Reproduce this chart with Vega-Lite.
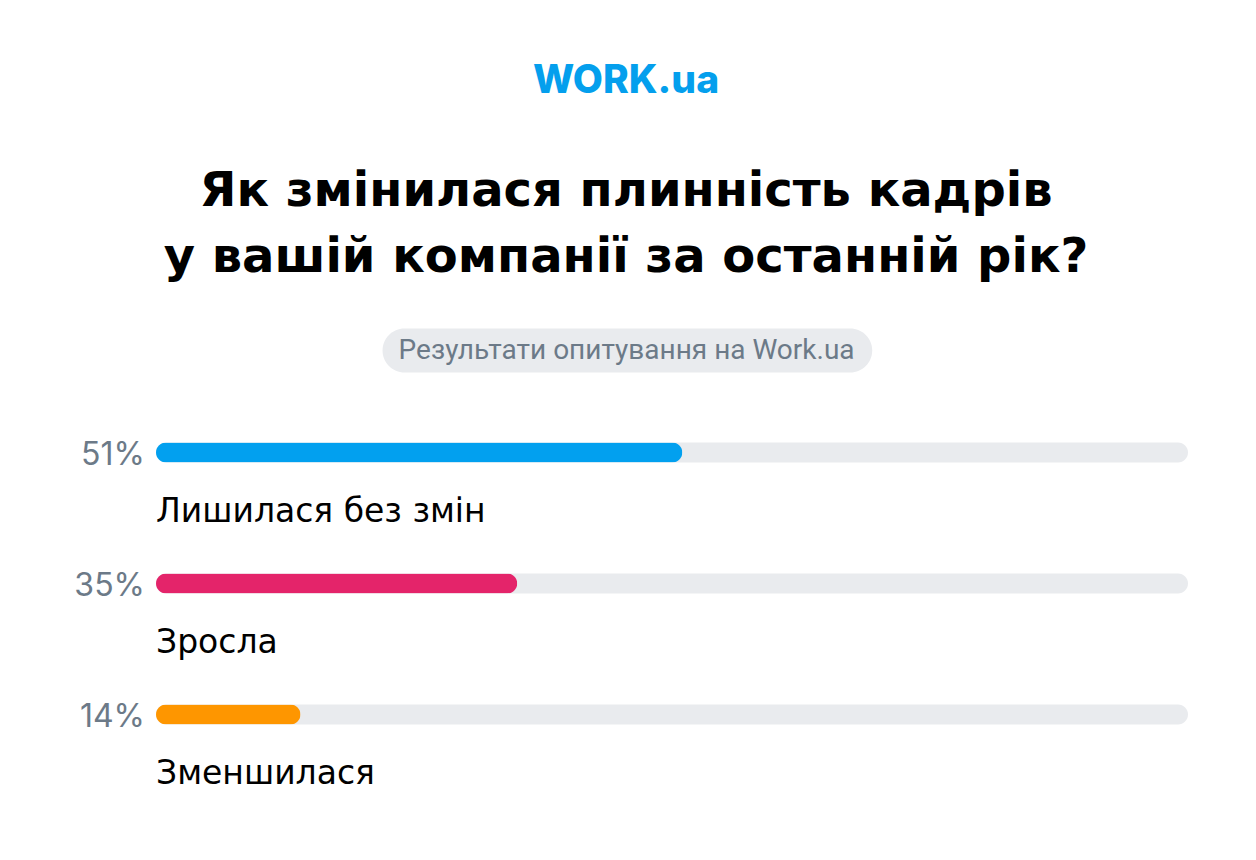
{
  "$schema": "https://vega.github.io/schema/vega-lite/v6.json",
  "width": 1032,
  "height": 524,
  "autosize": "none",
  "padding": {"left": 156, "right": 68, "top": 256, "bottom": 80},
  "background": "white",
  "config": {"view": {"stroke": null}},
  "title": {
    "text": "WORK.ua",
    "subtitle": ["Як змінилася плинність кадрів", "у вашій компанії за останній рік?"],
    "anchor": "middle",
    "dx": -46,
    "offset": -26,
    "font": "Inter",
    "fontSize": 39,
    "fontWeight": 800,
    "color": "#049fed",
    "subtitleFont": "DejaVu Sans",
    "subtitleFontSize": 48,
    "subtitleFontWeight": "bold",
    "subtitleColor": "#000000",
    "subtitleLineHeight": 66,
    "subtitlePadding": 67
  },
  "datasets": {
    "bars": [
      {"category": "Лишилася без змін", "value": 51, "label": "51%"},
      {"category": "Зросла", "value": 35, "label": "35%"},
      {"category": "Зменшилася", "value": 14, "label": "14%"}
    ],
    "pill": [
      {"category": "pill", "text": "Результати опитування на Work.ua"}
    ]
  },
  "encoding": {
    "y": {
      "field": "category",
      "type": "nominal",
      "scale": {"domain": ["pill", "Лишилася без змін", "Зросла", "Зменшилася"], "paddingInner": 0, "paddingOuter": 0},
      "axis": null
    }
  },
  "layer": [
    {
      "data": {"name": "bars"},
      "mark": {"type": "bar", "size": 20, "cornerRadius": 10, "color": "#e9ebee"},
      "encoding": {
        "x": {"datum": 0, "type": "quantitative", "scale": {"domain": [0, 100], "nice": false, "zero": true}, "axis": null},
        "x2": {"datum": 100}
      }
    },
    {
      "data": {"name": "bars"},
      "mark": {"type": "bar", "size": 20, "cornerRadius": 10},
      "encoding": {
        "x": {"field": "value", "type": "quantitative"},
        "color": {
          "field": "category",
          "type": "nominal",
          "scale": {"domain": ["Лишилася без змін", "Зросла", "Зменшилася"], "range": ["#02a0ef", "#e4246a", "#fe9600"]},
          "legend": null
        }
      }
    },
    {
      "data": {"name": "bars"},
      "mark": {"type": "text", "align": "right", "baseline": "middle", "dx": -11, "dy": 2, "font": "Inter", "fontSize": 32, "fontWeight": 400, "color": "#6c7a88"},
      "encoding": {
        "x": {"datum": 0, "type": "quantitative"},
        "text": {"field": "label"}
      }
    },
    {
      "data": {"name": "bars"},
      "mark": {"type": "text", "align": "left", "baseline": "middle", "dy": 59, "font": "DejaVu Sans", "fontSize": 33, "fontWeight": 400, "color": "#000000"},
      "encoding": {
        "x": {"datum": 0, "type": "quantitative"},
        "text": {"field": "category"}
      }
    },
    {
      "data": {"name": "pill"},
      "mark": {"type": "bar", "size": 44, "cornerRadius": 22, "color": "#e9ebee", "yOffset": 29},
      "encoding": {
        "x": {"datum": 21.95, "type": "quantitative"},
        "x2": {"datum": 69.4}
      }
    },
    {
      "data": {"name": "pill"},
      "mark": {"type": "text", "align": "center", "baseline": "middle", "yOffset": 29, "font": "Roboto", "fontSize": 28, "color": "#6c7a88"},
      "encoding": {
        "x": {"datum": 45.6, "type": "quantitative"},
        "text": {"field": "text"}
      }
    }
  ]
}
